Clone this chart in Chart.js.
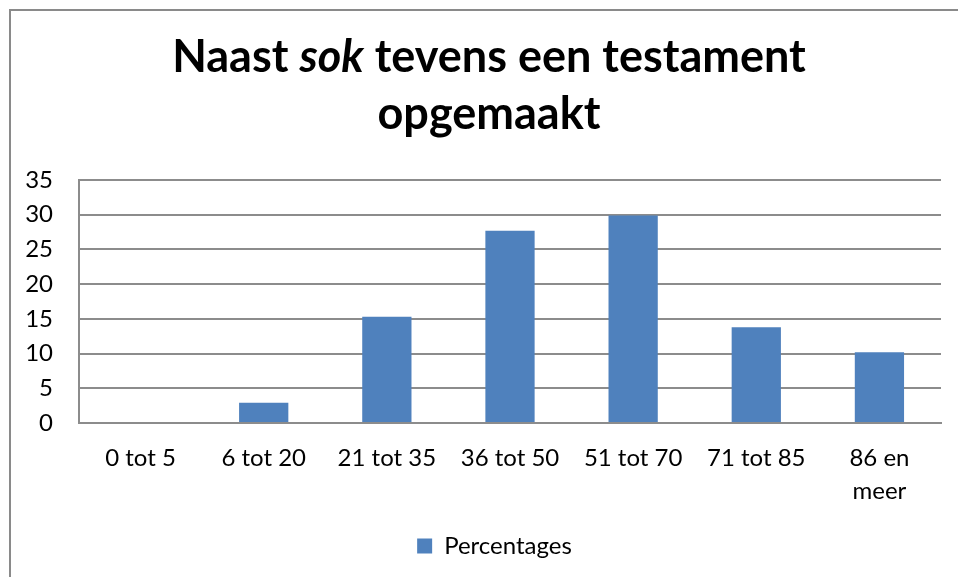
<!DOCTYPE html>
<html>
<head>
<meta charset="utf-8">
<script src="https://cdn.jsdelivr.net/npm/chart.js@4"></script>
<style>
  html, body { margin: 0; padding: 0; background: #fff; }
  #wrap { width: 958px; height: 577px; position: relative; }
</style>
</head>
<body>
<div id="wrap"><canvas id="c" width="958" height="577"></canvas></div>
<script>
const categories = ["0 tot 5", "6 tot 20", "21 tot 35", "36 tot 50", "51 tot 70", "71 tot 85", ["86 en", "meer"]];
const percentages = [0, 2.9, 15.3, 27.7, 29.9, 13.8, 10.2];
const seriesName = "Percentages";
const titleLine1 = [["Naast ", false], ["sok", true], [" tevens een testament", false]];
const titleLine2 = "opgemaakt";

const FONT = "Lato, 'Open Sans', sans-serif";
const GRID = "#8c8c8c";

const framePlugin = {
  id: 'frame',
  beforeDraw(chart) {
    const ctx = chart.ctx;
    ctx.save();
    ctx.fillStyle = '#fff';
    ctx.fillRect(0, 0, chart.width, chart.height);
    ctx.strokeStyle = '#8a8a8a';
    ctx.lineWidth = 2;
    ctx.strokeRect(10, 10, 2000, 2000);
    ctx.restore();
  }
};

const legendShift = {
  id: 'legendShift',
  afterLayout(chart) {
    if (chart.legend) {
      chart.legend.left += 24;
      chart.legend.right += 24;
    }
  }
};

const titlePlugin = {
  id: 'mixedTitle',
  afterDraw(chart) {
    const ctx = chart.ctx;
    ctx.save();
    const fontFor = (it, size) => (it ? 'italic ' : '') + 'bold ' + size + 'px ' + FONT;
    let base = 100, w100 = 0;
    titleLine1.forEach(([t, it]) => { ctx.font = fontFor(it, base); w100 += ctx.measureText(t).width; });
    const size = base * 634 / w100;
    let total = 0;
    titleLine1.forEach(([t, it]) => { ctx.font = fontFor(it, size); total += ctx.measureText(t).width; });
    const cx = 489;
    let x = cx - total / 2;
    ctx.fillStyle = '#000';
    ctx.textBaseline = 'alphabetic';
    titleLine1.forEach(([t, it]) => {
      ctx.font = fontFor(it, size);
      ctx.fillText(t, x, 72);
      x += ctx.measureText(t).width;
    });
    ctx.font = fontFor(false, size);
    ctx.textAlign = 'center';
    ctx.fillText(titleLine2, cx, 129);
    ctx.restore();
  }
};

new Chart(document.getElementById('c'), {
  type: 'bar',
  data: {
    labels: categories,
    datasets: [{
      label: seriesName,
      data: percentages,
      backgroundColor: '#4F81BD',
      borderColor: '#4F81BD',
      borderWidth: 0,
      categoryPercentage: 1.0,
      barPercentage: 0.4
    }]
  },
  options: {
    responsive: false,
    animation: false,
    layout: { padding: { top: 180, right: 17, left: 0, bottom: 9 } },
    plugins: {
      title: { display: false },
      tooltip: { enabled: false },
      legend: {
        position: 'bottom',
        labels: {
          color: '#000',
          boxWidth: 15,
          boxHeight: 15,
          font: { family: FONT, size: 24 },
          padding: 10
        }
      }
    },
    scales: {
      x: {
        grid: { display: false, drawTicks: false },
        border: { display: true, color: GRID, width: 2 },
        ticks: {
          color: '#000',
          font: { family: FONT, size: 24, lineHeight: 1.36 },
          padding: 19,
          maxRotation: 0,
          autoSkip: false
        },
        afterFit(scale) { scale.height = 101; }
      },
      y: {
        min: 0,
        max: 35,
        grid: { color: GRID, lineWidth: 2, drawTicks: false },
        border: { display: true, color: GRID, width: 2 },
        ticks: {
          stepSize: 5,
          color: '#000',
          font: { family: FONT, size: 24 },
          padding: 26
        },
        afterFit(scale) { scale.width = 79; }
      }
    }
  },
  plugins: [framePlugin, legendShift, titlePlugin]
});
</script>
</body>
</html>
